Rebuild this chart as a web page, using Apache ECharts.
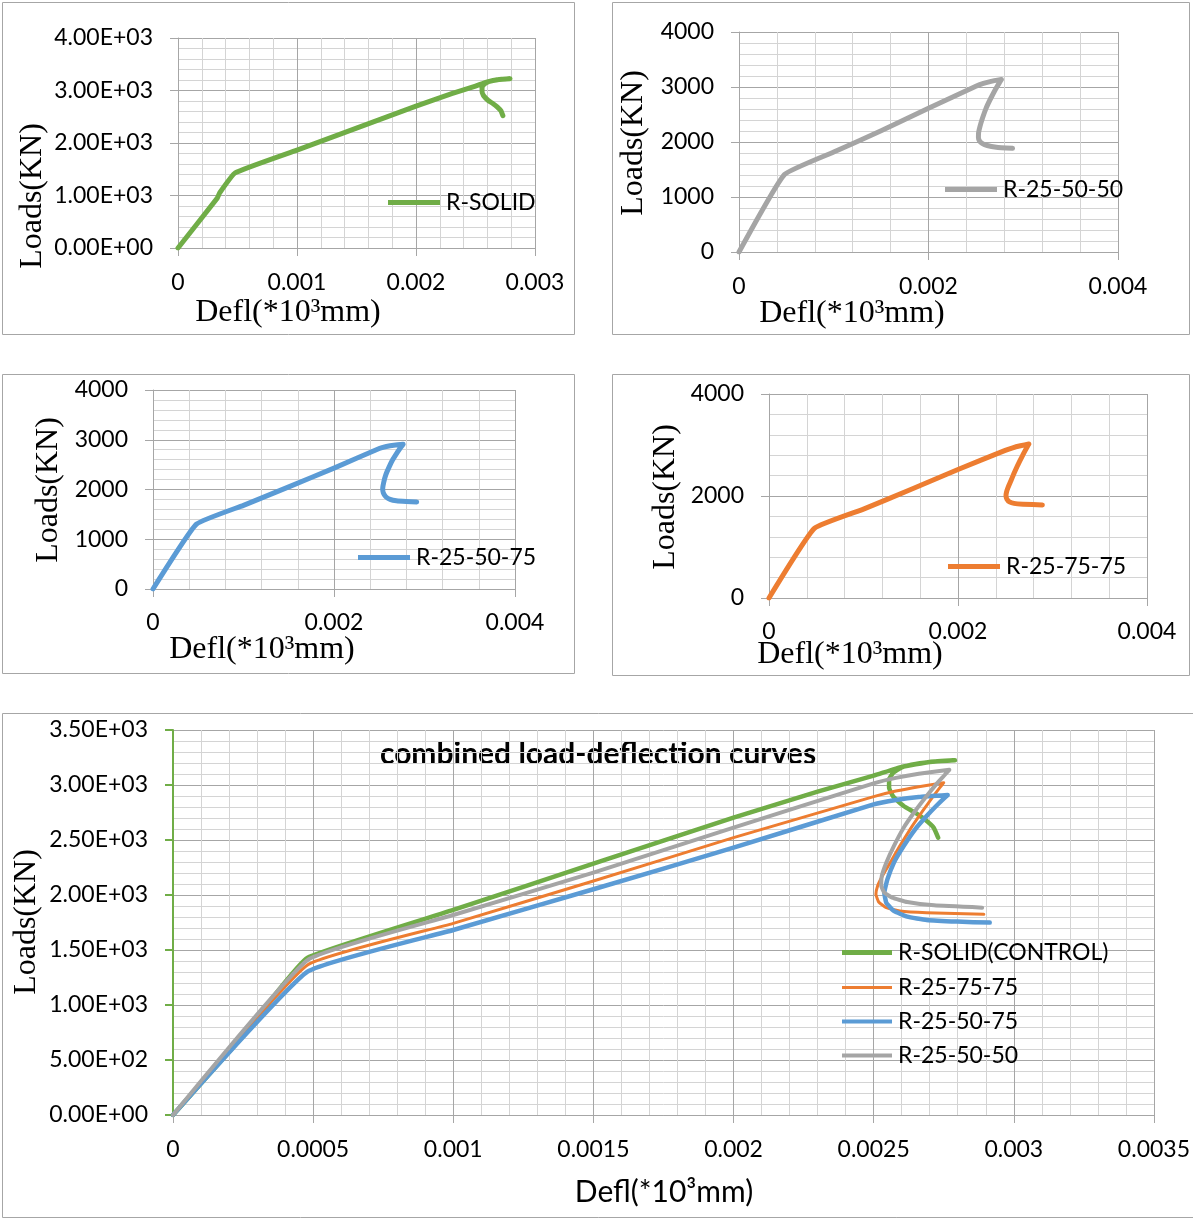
<!DOCTYPE html>
<html>
<head>
<meta charset="utf-8">
<title>Load-deflection curves</title>
<script src="https://cdn.jsdelivr.net/npm/echarts@6/dist/echarts.min.js"></script>
<style>
  html, body { margin: 0; padding: 0; background: #fff; }
  #chart { width: 1193px; height: 1219px; }
</style>
</head>
<body>
<div id="chart"></div>
<script>
// Deflection (*10^3 mm) and load (kN) readings for each specimen,
// in loading order: rising branch, peak, then the post-peak hook.
const solidDefl = [0, 0.00033, 0.00035, 0.00048, 0.001, 0.0015, 0.002, 0.0023, 0.0025, 0.0026, 0.0027, 0.00279,
  0.00272, 0.00265, 0.0026, 0.00257, 0.002555, 0.002555, 0.00257, 0.002607, 0.002648, 0.002682, 0.002714, 0.00273];
const solidLoad = [0, 950, 1050, 1430, 1864, 2285, 2703, 2940, 3085, 3165, 3210, 3224,
  3214, 3192, 3160, 3112, 3052, 2976, 2894, 2809, 2749, 2688, 2612, 2521];

const r257575Defl = [0, 0.00048, 0.001, 0.0015, 0.002, 0.0025, 0.002579, 0.002661, 0.00275,
  0.002736, 0.002709, 0.002675, 0.002634, 0.002593, 0.002559, 0.002531, 0.002514, 0.002508, 0.002518, 0.002545, 0.002593, 0.002689, 0.002893];
const r257575Load = [0, 1364, 1742, 2127, 2521, 2894, 2945, 2985, 3021,
  2976, 2885, 2764, 2612, 2445, 2294, 2173, 2082, 2006, 1936, 1885, 1855, 1839, 1824];

const r255075Defl = [0, 0.00048, 0.001, 0.0015, 0.002, 0.0025, 0.002579, 0.002661, 0.002764,
  0.00275, 0.002723, 0.002689, 0.002648, 0.002607, 0.002572, 0.002549, 0.002538, 0.002545, 0.002572, 0.00262, 0.002689, 0.002798, 0.002914];
const r255075Load = [0, 1303, 1682, 2052, 2430, 2824, 2864, 2891, 2909,
  2876, 2809, 2718, 2597, 2445, 2294, 2142, 2021, 1930, 1855, 1803, 1773, 1758, 1749];

const r255050Defl = [0, 0.00048, 0.001, 0.0015, 0.002, 0.0025, 0.002579, 0.002661, 0.00277,
  0.00275, 0.002723, 0.002689, 0.002648, 0.002607, 0.002572, 0.002545, 0.002529, 0.002527, 0.002538, 0.002566, 0.00262, 0.002716, 0.002887];
const r255050Load = [0, 1409, 1818, 2203, 2612, 3015, 3065, 3103, 3138,
  3082, 3006, 2900, 2764, 2612, 2445, 2294, 2173, 2082, 2021, 1976, 1936, 1906, 1885];

// Series names
const nameSolid = 'R-SOLID';
const nameSolidCombined = 'R-SOLID(CONTROL)';
const name257575 = 'R-25-75-75';
const name255075 = 'R-25-50-75';
const name255050 = 'R-25-50-50';

// Text
const chartTitle = 'combined load-deflection curves';
const loadTitle = 'Loads(KN)';
const deflTitle = 'Defl(*10³mm)';

const C_GREEN = '#70AD47', C_ORANGE = '#ED7D31', C_BLUE = '#5B9BD5', C_GRAY = '#A5A5A5';
const MAJOR = '#A6A6A6', MINOR = '#D4D4D4';
const TICK_FONT = 'Lato';
const TICK_SIZE = 23;
const SMOOTH = 0.12;

function pairs(xs, ys) { return xs.map((x, i) => [x, ys[i]]); }

function sciLabel(v) {
  if (v === 0) return '0.00E+00';
  const e = Math.floor(Math.log10(Math.abs(v)) + 1e-9);
  const m = v / Math.pow(10, e);
  return m.toFixed(2) + 'E' + (e < 0 ? '-' : '+') + String(Math.abs(e)).padStart(2, '0');
}
function plainLabel(v) {
  if (Math.abs(v) < 1e-12) return '0';
  return String(parseFloat(v.toPrecision(6)));
}

function makeX(gridIndex, max, interval, minorSplit, margin) {
  return {
    type: 'value', gridIndex, min: 0, max, interval,
    axisLine: { show: true, onZero: false, lineStyle: { color: MAJOR, width: 1 } },
    axisTick: { show: true, length: 8, lineStyle: { color: MAJOR } },
    axisLabel: { formatter: plainLabel, fontFamily: TICK_FONT, fontSize: TICK_SIZE, color: '#000', margin },
    splitLine: { show: true, lineStyle: { color: MAJOR, width: 1 } },
    minorTick: { show: false, splitNumber: minorSplit },
    minorSplitLine: { show: true, lineStyle: { color: MINOR, width: 1 } }
  };
}
function makeY(gridIndex, max, interval, minorSplit, sci, axisColor, axisWidth) {
  return {
    type: 'value', gridIndex, min: 0, max, interval,
    axisLine: { show: true, onZero: false, lineStyle: { color: axisColor || MAJOR, width: axisWidth || 1 } },
    axisTick: { show: true, length: 8, lineStyle: { color: axisColor || MAJOR, width: axisWidth || 1 } },
    axisLabel: { formatter: sci ? sciLabel : plainLabel, fontFamily: TICK_FONT, fontSize: TICK_SIZE, color: '#000', margin: 25 },
    splitLine: { show: true, lineStyle: { color: MAJOR, width: 1 } },
    minorTick: { show: false, splitNumber: minorSplit },
    minorSplitLine: { show: true, lineStyle: { color: MINOR, width: 1 } }
  };
}

function lineSeries(name, xs, ys, color, width, axisIdx, z) {
  return {
    type: 'line', name, xAxisIndex: axisIdx, yAxisIndex: axisIdx,
    data: pairs(xs, ys), color,
    showSymbol: false, symbol: 'none', smooth: SMOOTH, z: z || 2,
    lineStyle: { color, width, cap: 'round', join: 'round' }
  };
}

function legendAt(name, left, centerY, thickness, width) {
  return {
    data: [name], left, top: centerY - 12, padding: 0,
    icon: 'rect', itemWidth: width || 52, itemHeight: thickness,
    selectedMode: false,
    textStyle: { fontFamily: TICK_FONT, fontSize: TICK_SIZE, color: '#000', padding: [0, 0, 0, 1] }
  };
}

function frame(x, y, w, h) {
  return { type: 'rect', silent: true, z: -10,
    shape: { x, y, width: w, height: h },
    style: { fill: 'none', stroke: MAJOR, lineWidth: 1 } };
}
function serifTitle(text, x, y, vertical) {
  return { type: 'text', silent: true, x, y, rotation: vertical ? Math.PI / 2 : 0,
    style: { text, font: '32px "Liberation Serif"', fill: '#000', align: 'center', verticalAlign: 'middle' } };
}

const option = {
  animation: false,
  backgroundColor: '#fff',
  grid: [
    { left: 178, top: 38, width: 357, height: 210 },
    { left: 739, top: 32, width: 379, height: 220 },
    { left: 153, top: 390, width: 362, height: 199 },
    { left: 769, top: 394, width: 378, height: 204 },
    { left: 173, top: 730, width: 983, height: 385 }
  ],
  xAxis: [
    makeX(0, 0.003, 0.001, 5, 23),
    makeX(1, 0.004, 0.002, 5, 23),
    makeX(2, 0.004, 0.002, 5, 22),
    makeX(3, 0.004, 0.002, 5, 22),
    makeX(4, 0.0035, 0.0005, 5, 23)
  ],
  yAxis: [
    makeY(0, 4000, 1000, 5, true),
    makeY(1, 4000, 1000, 5, false),
    makeY(2, 4000, 1000, 5, false),
    makeY(3, 4000, 2000, 5, false),
    makeY(4, 3500, 500, 5, true, C_GREEN, 2)
  ],
  legend: [
    legendAt(nameSolid, 388, 203, 5),
    legendAt(name255050, 945, 190, 5),
    legendAt(name255075, 358, 558, 5),
    legendAt(name257575, 948, 567, 5),
    legendAt(nameSolidCombined, 842, 953, 5, 50),
    legendAt(name257575 + ' ', 842, 988, 3, 50),
    legendAt(name255075 + ' ', 842, 1022, 4, 50),
    legendAt(name255050 + ' ', 842, 1056, 4, 50)
  ],
  series: [
    lineSeries(nameSolid, solidDefl, solidLoad, C_GREEN, 5, 0),
    lineSeries(name255050, r255050Defl, r255050Load, C_GRAY, 5, 1),
    lineSeries(name255075, r255075Defl, r255075Load, C_BLUE, 5, 2),
    lineSeries(name257575, r257575Defl, r257575Load, C_ORANGE, 5, 3),
    lineSeries(nameSolidCombined, solidDefl, solidLoad, C_GREEN, 4.5, 4, 2),
    lineSeries(name257575 + ' ', r257575Defl, r257575Load, C_ORANGE, 3, 4, 3),
    lineSeries(name255075 + ' ', r255075Defl, r255075Load, C_BLUE, 4.5, 4, 4),
    lineSeries(name255050 + ' ', r255050Defl, r255050Load, C_GRAY, 4, 4, 5)
  ],
  graphic: [
    frame(2.5, 2.5, 572, 332),
    frame(612.5, 2.5, 577, 332),
    frame(2.5, 374.5, 572, 299),
    frame(612.5, 374.5, 577, 301),
    frame(2.5, 713.5, 1200, 504),
    serifTitle(loadTitle, 33, 196, true),
    serifTitle(deflTitle, 288, 313),
    serifTitle(loadTitle, 634, 143, true),
    serifTitle(deflTitle, 852, 314),
    serifTitle(loadTitle, 49, 490, true),
    serifTitle(deflTitle, 262, 650),
    serifTitle(loadTitle, 666, 497, true),
    serifTitle(deflTitle, 850, 655),
    serifTitle(loadTitle, 27, 922, true),
    { type: 'text', silent: true, x: 664, y: 1192,
      style: { text: deflTitle, font: '30px Lato', fill: '#000', align: 'center', verticalAlign: 'middle' } },
    { type: 'text', silent: true, x: 598, y: 754,
      style: { text: chartTitle, font: 'bold 30px Lato', fill: '#000', align: 'center', verticalAlign: 'middle' } }
  ]
};

const chart = echarts.init(document.getElementById('chart'), null, { renderer: 'canvas' });
chart.setOption(option);
</script>
</body>
</html>
